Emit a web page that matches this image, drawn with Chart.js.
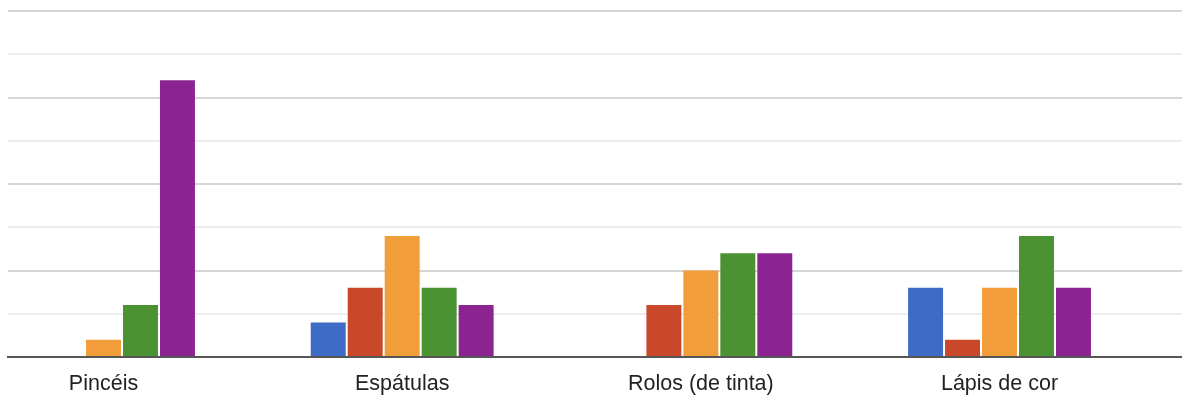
<!DOCTYPE html>
<html>
<head>
<meta charset="utf-8">
<script src="https://cdn.jsdelivr.net/npm/chart.js@4"></script>
<style>
  html, body { margin: 0; padding: 0; background: #fff; }
  #wrap { position: relative; width: 1182px; height: 396px; }
</style>
</head>
<body>
<div id="wrap"><canvas id="chart"></canvas></div>
<script>
// Categories along the x axis
const categories = ['Pincéis', 'Espátulas', 'Rolos (de tinta)', 'Lápis de cor'];

// Response counts per answer option, one value per category
const seriesNames = ['Opção 1', 'Opção 2', 'Opção 3', 'Opção 4', 'Opção 5'];
const option1 = [0, 2, 0, 4];
const option2 = [0, 4, 3, 1];
const option3 = [1, 7, 5, 4];
const option4 = [3, 4, 6, 7];
const option5 = [16, 3, 6, 4];

// Value axis: gridlines every 2.5, darker every 5
const yMax = 20;
const yStep = 2.5;

const seriesValues = [option1, option2, option3, option4, option5];
const seriesColors = ['#3d6bc6', '#c94829', '#f09d3a', '#4a9232', '#8b2491'];

const datasets = seriesValues.map((vals, s) => ({
  label: seriesNames[s],
  data: vals.map((v, i) => ({ x: i, y: v })),
  backgroundColor: seriesColors[s],
  borderWidth: 0,
  categoryPercentage: 0.619,
  barPercentage: 0.946
}));

new Chart(document.getElementById('chart'), {
  type: 'bar',
  data: { datasets },
  options: {
    responsive: true,
    maintainAspectRatio: false,
    animation: false,
    layout: { padding: { left: 8, right: 0, top: 11, bottom: 0 } },
    plugins: {
      legend: { display: false },
      tooltip: { enabled: false }
    },
    scales: {
      x: {
        type: 'linear',
        offset: false,
        bounds: 'data',
        min: -0.3198,
        max: 3.611,
        z: 1,
        grid: { display: false },
        border: { display: true, color: '#555555', width: 2 },
        afterFit: (scale) => { scale.height = 39; },
        afterBuildTicks: (scale) => {
          scale.ticks = categories.map((_, i) => ({ value: i }));
        },
        ticks: {
          autoSkip: false,
          maxRotation: 0,
          padding: 6,
          color: '#222222',
          font: { family: "'Liberation Sans', Arial, sans-serif", size: 21.5 },
          callback: (value) => categories[value]
        }
      },
      y: {
        min: 0,
        max: yMax,
        ticks: { display: false, stepSize: yStep },
        border: { display: false },
        grid: {
          drawTicks: false,
          lineWidth: 2,
          color: (ctx) => (ctx.tick && ctx.tick.value % 5 === 0) ? '#d6d6d6' : '#ededed'
        }
      }
    }
  }
});
</script>
</body>
</html>
